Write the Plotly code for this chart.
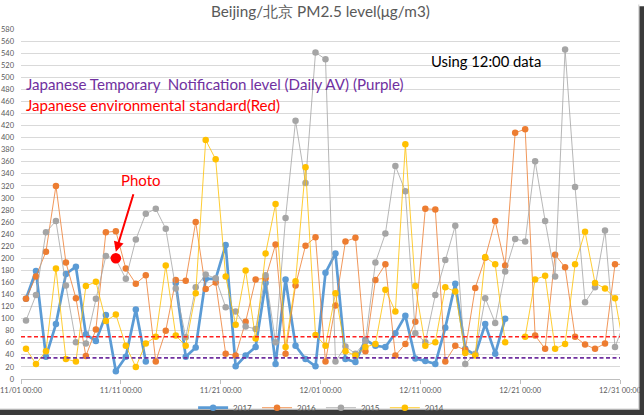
import pandas as pd
import plotly.graph_objects as go

# ---------------- data ----------------
dates = pd.date_range("2017-11-01 12:00", periods=61, freq="D")  # daily 12:00 readings, Nov 1 - Dec 31

pm_2017 = [133, 179, 37, 91, 174, 186, 74, 63, 106, 13, 37, 115, 29, None, None, 159, 37, 52, 166, 166,
           222, 21, 39, 53, 159, 25, 165, 55, 33, 21, 176, 208, 33, 28, 65, 55, 53, 76, 105, 34,
           30, 25, 85, 158, 50, 40, 91, 42, 100, None, None, None, None, None, None, None, None, None, None, None,
           None]
pm_2016 = [133, 170, 211, 320, 193, 134, 38, 82, 243, 245, 183, 158, 172, 29, 80, 164, 163, 260, 149, 160,
           42, 39, 95, 165, 167, 223, 42, 155, 221, 235, 29, 122, 228, 234, 46, 164, 190, 39, 58, 95,
           282, 281, 29, 55, 48, 151, 201, 262, 188, 408, 414, 72, 50, 206, 185, 70, 57, 50, 59, 190,
           190]
pm_2015 = [97, 139, 243, 262, 155, 61, 59, 133, 204, 199, 166, 231, 274, 282, 249, 150, 69, 152, 173, 167,
           119, 112, 87, 83, 172, 61, 267, 428, 325, 541, 530, 29, 54, 42, 62, 193, 241, 353, 311, 76,
           61, 139, 197, 254, 25, 42, 134, 93, 178, 232, 228, 361, 262, 170, 546, 318, 127, 152, 246, 53,
           97]
pm_2014 = [50, 25, 46, 183, 33, 29, 154, 161, 96, 107, 55, 20, 59, 70, 188, 72, 55, 142, 396, 364,
           170, 90, 180, 67, 208, 290, 53, 162, 351, 73, 55, 142, 46, 39, 53, 58, 148, 112, 389, 154,
           55, 61, 152, 145, 43, 39, 202, 190, 61, None, 70, 165, 171, 50, 58, 190, 244, 159, 150, 134,
           40]

series_names = ["2017", "2016", "2015", "2014"]
series_vals = [pm_2017, pm_2016, pm_2015, pm_2014]
series_colors = ["#5B9BD5", "#ED7D31", "#A5A5A5", "#FFC000"]
series_line_colors = ["#5B9BD5", "rgba(237,125,49,0.8)", "rgba(165,165,165,0.8)", "rgba(255,192,0,0.8)"]
series_widths = [2.7, 1, 1, 1]

tick_dates = ["2017-11-01", "2017-11-11", "2017-11-21", "2017-12-01", "2017-12-11", "2017-12-21", "2017-12-31"]
tick_labels = ["11/01 00:00", "11/11 00:00", "11/21 00:00", "12/01 00:00", "12/11 00:00", "12/21 00:00", "12/31 00:00"]

env_standard = 70        # red dashed
notify_level = 35        # purple dashed
photo_date = "2017-11-10 12:00"
photo_value = 200

FONT = "Lato"
GRAY_TXT = "#595959"

fig = go.Figure()
for name, vals, col, lcol, w in zip(series_names, series_vals, series_colors, series_line_colors, series_widths):
    fig.add_trace(go.Scatter(
        x=dates, y=vals, name=name, mode="lines+markers",
        line=dict(color=lcol, width=w),
        marker=dict(color=col, size=6.5, line=dict(width=0)),
        connectgaps=False,
    ))

# photo marker
fig.add_trace(go.Scatter(x=[photo_date], y=[photo_value], mode="markers", showlegend=False,
                         marker=dict(color="#FF0000", size=10.5, line=dict(width=0))))

# reference lines
fig.add_shape(type="line", xref="paper", x0=0, x1=1, yref="y", y0=env_standard, y1=env_standard,
              line=dict(color="#FF2020", width=1.6, dash="4px,2.5px"))
fig.add_shape(type="line", xref="paper", x0=0, x1=1, yref="y", y0=notify_level, y1=notify_level,
              line=dict(color="#7030A0", width=1.6, dash="4px,2.5px"))

# frame shadow (right & bottom)
fig.add_shape(type="line", xref="paper", yref="paper", x0=1.0315, x1=1.0315, y0=-0.086, y1=1.07,
              line=dict(color="#C8C8C8", width=1), layer="above")
fig.add_shape(type="line", xref="paper", yref="paper", x0=-0.04, x1=1.0315, y0=-0.086, y1=-0.086,
              line=dict(color="#C8C8C8", width=1), layer="above")
fig.add_shape(type="rect", xref="paper", yref="paper", x0=1.0325, x1=1.1, y0=-0.15, y1=1.065,
              fillcolor="#3A3A3A", line=dict(width=0), layer="above")
fig.add_shape(type="rect", xref="paper", yref="paper", x0=-0.04, x1=1.1, y0=-0.15, y1=-0.0875,
              fillcolor="#3A3A3A", line=dict(width=0), layer="above")

# arrow to photo point
fig.add_annotation(x=photo_date, y=211, xref="x", yref="y", text="", showarrow=True,
                   ax=18, ay=-59, arrowhead=2, arrowsize=1, arrowwidth=2, arrowcolor="#FF0000")
fig.add_annotation(x="2017-11-13 00:00", y=329, xref="x", yref="y", text="Photo", showarrow=False,
                   font=dict(family=FONT, size=15, color="#FF0000"))

# texts
fig.add_annotation(x=0.0055, y=0.843, xref="paper", yref="paper", xanchor="left", yanchor="middle",
                   text="Japanese Temporary\u00a0 Notification level (Daily AV) (Purple)", showarrow=False,
                   font=dict(family=FONT, size=15.1, color="#7030A0"))
fig.add_annotation(x=0.0055, y=0.784, xref="paper", yref="paper", xanchor="left", yanchor="middle",
                   text="Japanese environmental standard(Red)", showarrow=False,
                   font=dict(family=FONT, size=15.1, color="#FF0000"))
fig.add_annotation(x=0.6808, y=0.9087, xref="paper", yref="paper", xanchor="left", yanchor="middle",
                   text="Using 12:00 data", showarrow=False,
                   font=dict(family=FONT, size=14.8, color="#000000"))

fig.update_layout(
    width=644, height=415,
    margin=dict(l=21, r=24, t=29, b=36, pad=0, autoexpand=False),
    paper_bgcolor="white", plot_bgcolor="white",
    title=dict(text="Beijing/北京 PM2.5 level(μg/m3)", x=0.4998, xref="paper", xanchor="center",
               y=1 - 12 / 415, yref="container", yanchor="middle",
               font=dict(family=FONT, size=15.3, color=GRAY_TXT)),
    font=dict(family=FONT, color=GRAY_TXT),
    legend=dict(orientation="h", x=0.501, xanchor="center", y=-0.082, yanchor="middle",
                font=dict(family=FONT, size=8, color=GRAY_TXT), itemwidth=30,
                bgcolor="rgba(0,0,0,0)"),
    showlegend=True,
)
fig.update_xaxes(type="date", range=["2017-11-01 00:00", "2017-12-31 00:00"],
                 tickvals=tick_dates, ticktext=tick_labels, automargin=False,
                 showgrid=False, showline=True, linecolor="#BFBFBF", linewidth=1,
                 ticks="outside", ticklen=4, tickcolor="#BFBFBF",
                 tickfont=dict(family=FONT, size=7.5, color=GRAY_TXT), zeroline=False)
fig.update_yaxes(range=[0, 580], dtick=20, tick0=0, showgrid=True, gridcolor="#D9D9D9", gridwidth=1,
                 zeroline=False, showline=False, ticks="", automargin=False,
                 tickfont=dict(family=FONT, size=7.5, color=GRAY_TXT), ticklabelstandoff=6)

fig.write_html("out.html", config={"displayModeBar": False},
               post_script="document.body.style.margin='0px';document.body.style.overflow='hidden';")
